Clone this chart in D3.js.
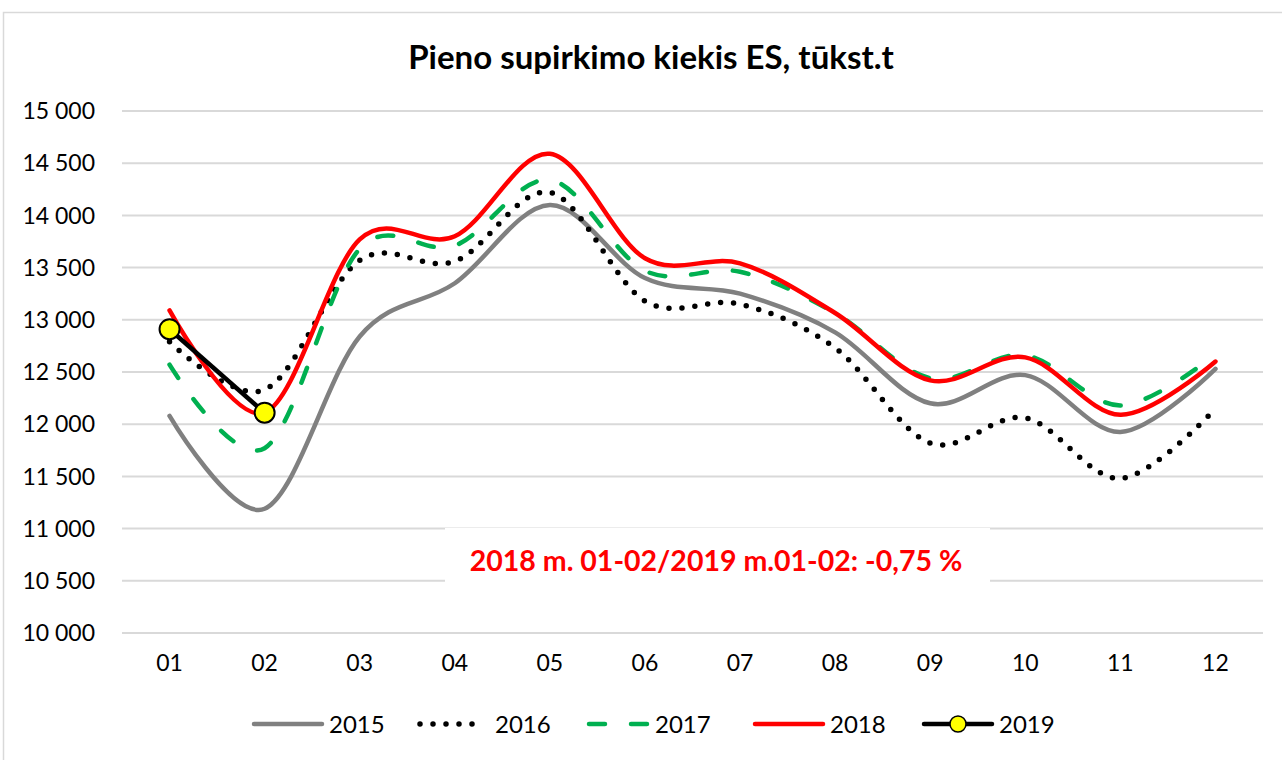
<!DOCTYPE html>
<html>
<head>
<meta charset="utf-8">
<script src="https://cdn.jsdelivr.net/npm/d3@7"></script>
<style>
  body { margin: 0; background: #fff; }
  text { font-family: Lato, "Open Sans", sans-serif; }
</style>
</head>
<body>
<div id="plot"></div>
<script>
// months and yearly series (thousand t)
var months = ["01", "02", "03", "04", "05", "06", "07", "08", "09", "10", "11", "12"];
var s2015 = [12080, 11190, 12840, 13350, 14100, 13400, 13250, 12880, 12200, 12470, 11925, 12530];
var s2016 = [12790, 12330, 13570, 13560, 14220, 13180, 13150, 12730, 11820, 12060, 11480, 12150];
var s2017 = [12570, 11770, 13680, 13710, 14340, 13470, 13460, 13065, 12440, 12660, 12180, 12670];
var s2018 = [13090, 12110, 13770, 13800, 14590, 13590, 13540, 13065, 12420, 12640, 12090, 12600];
var s2019 = [12910, 12110];
var yTicks = [10000, 10500, 11000, 11500, 12000, 12500, 13000, 13500, 14000, 14500, 15000];
var legendNames = ["2015", "2016", "2017", "2018", "2019"];

var W = 1282, H = 760;
var margin = { top: 111, right: 19, bottom: 127, left: 122 },
    width = W - margin.left - margin.right,
    height = H - margin.top - margin.bottom;

var svg = d3.select("#plot").append("svg")
    .attr("width", W)
    .attr("height", H);

// outer chart border
svg.append("rect")
    .attr("x", 3.5).attr("y", 12.5)
    .attr("width", W + 10).attr("height", H)
    .attr("fill", "#fff")
    .attr("stroke", "#d9d9d9")
    .attr("stroke-width", 1.5);

svg.append("text")
    .attr("x", 651).attr("y", 69)
    .attr("text-anchor", "middle")
    .style("font-size", "33px")
    .style("font-weight", "bold")
    .text("Pieno supirkimo kiekis ES, tūkst.t");

var g = svg.append("g")
    .attr("transform", "translate(" + margin.left + "," + margin.top + ")");

var x = d3.scaleBand().domain(months).range([0, width]),
    y = d3.scaleLinear().domain([10000, 15000]).range([height, 0]);

var fmt = function (v) { return d3.format(",")(v).replace(",", " "); };

// gridlines
g.append("g")
    .selectAll("line")
    .data(yTicks)
    .enter().append("line")
    .attr("x1", 0).attr("x2", width)
    .attr("y1", function (d) { return y(d); })
    .attr("y2", function (d) { return y(d); })
    .attr("stroke", "#d9d9d9")
    .attr("stroke-width", 2);

// y labels
g.append("g")
    .selectAll("text")
    .data(yTicks)
    .enter().append("text")
    .attr("x", -27)
    .attr("y", function (d) { return y(d); })
    .attr("dy", "0.36em")
    .attr("text-anchor", "end")
    .style("font-size", "23px")
    .text(fmt);

// x labels
g.append("g")
    .selectAll("text")
    .data(months)
    .enter().append("text")
    .attr("x", function (d) { return x(d) + x.bandwidth() / 2; })
    .attr("y", height + 38)
    .attr("text-anchor", "middle")
    .style("font-size", "23px")
    .text(function (d) { return d; });

// annotation box
g.append("rect")
    .attr("x", 445 - margin.left).attr("y", 528 - margin.top)
    .attr("width", 545).attr("height", 58)
    .attr("fill", "#fff");
g.append("text")
    .attr("x", 716 - margin.left).attr("y", 571 - margin.top)
    .attr("text-anchor", "middle")
    .attr("fill", "#ff0000")
    .style("font-size", "28.5px")
    .style("font-weight", "bold")
    .text("2018 m. 01-02/2019 m.01-02: -0,75 %");

var cx = function (d, i) { return x(months[i]) + x.bandwidth() / 2; };
var smooth = d3.line().x(cx).y(function (d) { return y(d); }).curve(d3.curveCardinal.tension(0));
var straight = d3.line().x(cx).y(function (d) { return y(d); });

var styles = [
    { data: s2015, color: "#808080", dash: null, cap: "round" },
    { data: s2016, color: "#000000", dash: "0 13", cap: "round" },
    { data: s2017, color: "#00b050", dash: "16 26", cap: "round" },
    { data: s2018, color: "#ff0000", dash: null, cap: "round" }
];

styles.forEach(function (s) {
    g.append("path")
        .attr("d", smooth(s.data))
        .attr("fill", "none")
        .attr("stroke", s.color)
        .attr("stroke-width", s.dash === "0 13" ? 5.5 : 4.5)
        .attr("stroke-linecap", s.cap)
        .attr("stroke-dasharray", s.dash);
});

g.append("path")
    .attr("d", straight(s2019))
    .attr("fill", "none")
    .attr("stroke", "#000")
    .attr("stroke-width", 4.5);

g.selectAll(".m19")
    .data(s2019)
    .enter().append("circle")
    .attr("class", "m19")
    .attr("cx", cx)
    .attr("cy", function (d) { return y(d); })
    .attr("r", 10)
    .attr("fill", "#ffff00")
    .attr("stroke", "#000")
    .attr("stroke-width", 2);

// legend
var legendX = [252, 418, 587, 753, 922];
var legendStyles = styles.concat([{ color: "#000", dash: null, cap: "round" }]);
var leg = svg.append("g").attr("transform", "translate(0,724)");
legendNames.forEach(function (name, i) {
    var s = legendStyles[i];
    var x0 = legendX[i];
    var len = i === 1 ? 60 : (i === 2 ? 63 : 72);
    leg.append("line")
        .attr("x1", x0 + 2).attr("x2", x0 + len - 2)
        .attr("y1", 0).attr("y2", 0)
        .attr("stroke", s.color)
        .attr("stroke-width", i === 1 ? 5.5 : 4.5)
        .attr("stroke-linecap", s.cap)
        .attr("stroke-dasharray", s.dash);
    if (i === 4) {
        leg.append("circle")
            .attr("cx", x0 + 36).attr("cy", 0).attr("r", 8)
            .attr("fill", "#ffff00").attr("stroke", "#000").attr("stroke-width", 1.5);
    }
    leg.append("text")
        .attr("x", x0 + len + (i === 1 ? 17 : 5))
        .attr("y", 0)
        .attr("dy", "0.36em")
        .style("font-size", "24px")
        .text(name);
});
</script>
</body>
</html>
